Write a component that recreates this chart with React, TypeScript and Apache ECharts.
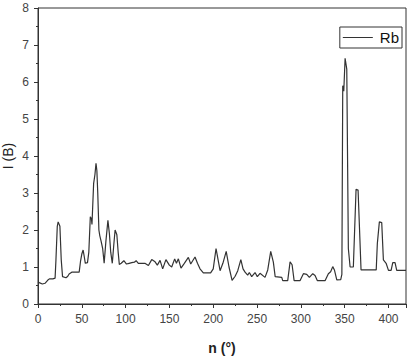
import React, { useEffect, useRef } from "react";
import * as echarts from "echarts";

const seriesName = "Rb";
const xTitle = "n (°)";
const yTitle = "I (B)";

const nValues = [
  0, 2, 5, 8, 11, 13, 17, 19.5, 20.5, 22, 23, 25, 26.5, 28, 32, 34, 35.5, 38.5, 47, 48.5,
  50, 51.5, 53, 54, 56.5, 58, 59.7, 61, 61.6, 63.5, 65, 66.2, 67.2, 68.2, 69.5, 70.5, 72, 73.8, 75.5, 77.5,
  79.8, 81.5, 83, 84.8, 86.5, 88, 90, 91.5, 92.8, 95, 98, 101, 104, 107, 110, 112, 114.5, 118, 122, 126,
  129.8, 133.6, 136.2, 139.3, 142.3, 146, 149.9, 152.6, 156, 158, 160.2, 163.2, 167, 171.6, 174.3, 179.2, 182, 184.9, 188.7, 197,
  200, 203.2, 205.5, 207.8, 211, 214.8, 218, 221.5, 225, 228, 231.5, 234, 236.3, 239.3, 241.2, 243.9, 247.7, 250.3, 253.4, 259.1,
  262.2, 265.6, 268.6, 270.7, 278.2, 279.3, 285, 287.7, 290, 292.3, 299, 302.9, 306.7, 309.7, 313.6, 316.2, 318.9, 327.6, 331.4, 334,
  336.4, 338.3, 341, 345.5, 346.8, 347.8, 349, 350.5, 352.4, 354.2, 356.2, 359.9, 363, 365.3, 368.7, 386, 387.3, 389.6, 392.3, 394.2,
  397.3, 400, 403, 404.9, 407.5, 409.4, 420,
];

const intensity = [
  0.6, 0.57, 0.54, 0.56, 0.64, 0.68, 0.68, 0.7, 1.2, 2.1, 2.22, 2.1, 1.2, 0.74, 0.71, 0.75, 0.81, 0.86, 0.86, 1.15,
  1.35, 1.46, 1.25, 1.1, 1.12, 1.4, 2.36, 2.3, 2.15, 3.26, 3.5, 3.8, 3.6, 3.0, 2.0, 1.85, 1.7, 1.5, 1.1, 1.7,
  2.26, 1.9, 1.4, 1.1, 1.6, 2.0, 1.87, 1.4, 1.07, 1.1, 1.17, 1.08, 1.1, 1.12, 1.13, 1.17, 1.1, 1.1, 1.1, 1.04,
  1.2, 1.14, 1.05, 1.18, 0.95, 1.2, 1.05, 1.0, 1.22, 1.1, 1.22, 0.97, 1.1, 1.26, 1.08, 1.27, 1.1, 0.95, 0.84, 0.84,
  0.95, 1.5, 1.2, 0.9, 1.1, 1.42, 1.0, 0.64, 0.75, 0.9, 1.2, 0.95, 0.86, 0.78, 0.85, 0.74, 0.85, 0.74, 0.83, 0.72,
  0.92, 1.42, 1.13, 0.74, 0.72, 0.63, 0.63, 1.14, 1.06, 0.63, 0.63, 0.82, 0.8, 0.72, 0.82, 0.77, 0.63, 0.63, 0.82, 0.87,
  1.01, 0.92, 0.65, 0.66, 0.8, 5.9, 5.75, 6.64, 6.35, 1.5, 1.0, 1.0, 3.1, 3.08, 0.92, 0.92, 1.64, 2.22, 2.2, 1.19,
  1.1, 0.91, 0.91, 1.12, 1.12, 0.91, 0.91,
];

export default function App() {
  const ref = useRef<HTMLDivElement>(null);
  useEffect(() => {
    if (!ref.current) return;
    const chart = echarts.init(ref.current, null, { renderer: "svg" });
    const data = nValues.map((x, i) => [x, intensity[i]]);
    const font = "Liberation Sans, Arial, sans-serif";
    const axisText = { color: "#444", fontSize: 12, fontFamily: font };
    chart.setOption({
      animation: false,
      backgroundColor: "#fff",
      grid: {
        left: 38,
        right: 6,
        top: 8,
        bottom: 52,
        containLabel: false,
        outerBoundsMode: "none",
        show: true,
        borderColor: "#333",
        borderWidth: 1,
        backgroundColor: "transparent",
      },
      legend: {
        show: true,
        right: 10,
        top: 27,
        orient: "horizontal",
        padding: [3, 3, 3, 3],
        borderColor: "#333",
        borderWidth: 1,
        borderRadius: 0,
        icon: "rect",
        itemWidth: 30,
        itemHeight: 1,
        itemGap: 0,
        itemStyle: { color: "#333" },
        textStyle: { color: "#111", fontSize: 15, fontFamily: font, padding: [0, 0, 0, 2] },
        data: [{ name: seriesName }],
      },
      xAxis: {
        type: "value",
        min: 0,
        max: 420,
        interval: 50,
        name: xTitle,
        nameLocation: "middle",
        nameGap: 37,
        nameMoveOverlap: false,
        nameTextStyle: { color: "#222", fontSize: 14, fontWeight: "bold", fontFamily: font },
        axisLine: { show: true, lineStyle: { color: "#333", width: 1 } },
        axisTick: { show: true, length: 4, lineStyle: { color: "#333" } },
        minorTick: { show: true, splitNumber: 2, length: 2, lineStyle: { color: "#333" } },
        axisLabel: { ...axisText, margin: 9, showMaxLabel: false },
        splitLine: { show: false },
      },
      yAxis: {
        type: "value",
        min: 0,
        max: 8,
        interval: 1,
        name: yTitle,
        nameLocation: "middle",
        nameGap: 23,
        nameRotate: 90,
        nameMoveOverlap: false,
        nameTextStyle: { color: "#222", fontSize: 14, fontFamily: font },
        axisLine: { show: true, lineStyle: { color: "#333", width: 1 } },
        axisTick: { show: true, length: 4, lineStyle: { color: "#333" } },
        minorTick: { show: true, splitNumber: 2, length: 2, lineStyle: { color: "#333" } },
        axisLabel: { ...axisText, margin: 9 },
        splitLine: { show: false },
      },
      series: [
        {
          name: seriesName,
          type: "line",
          data,
          symbol: "none",
          showSymbol: false,
          smooth: false,
          lineStyle: { color: "#333", width: 1.2 },
          itemStyle: { color: "#333" },
        },
      ],
    });
    return () => chart.dispose();
  }, []);
  return (
    <div
      ref={ref}
      style={{ position: "fixed", left: 0, top: 0, width: 412, height: 356, background: "#fff" }}
    />
  );
}
